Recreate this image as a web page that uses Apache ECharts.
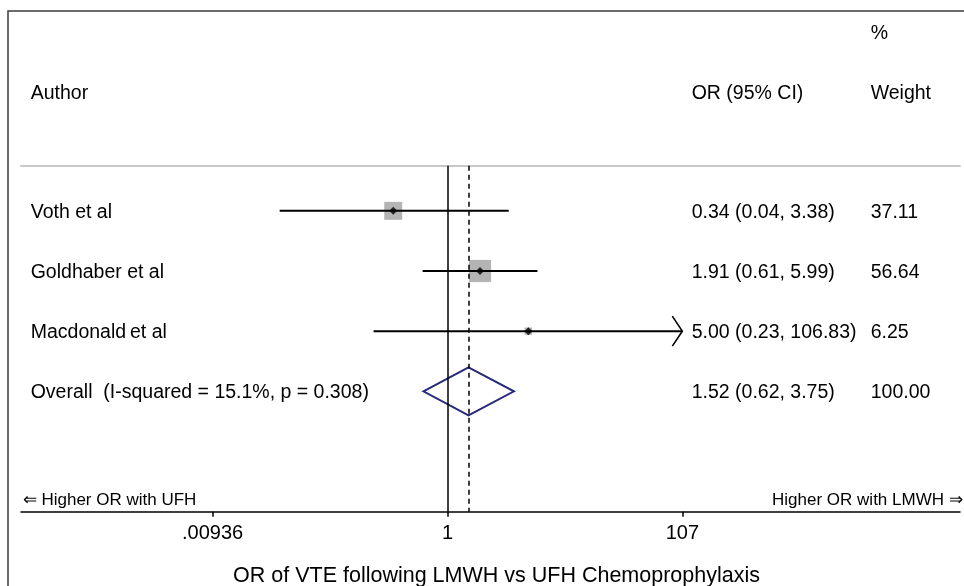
<!DOCTYPE html>
<html>
<head>
<meta charset="utf-8">
<script src="https://cdn.jsdelivr.net/npm/echarts@6/dist/echarts.min.js"></script>
<style>html,body{margin:0;padding:0;background:#fff}#c{width:964px;height:586px}</style>
</head>
<body>
<div id="c"></div>
<script>
// ---- data ----
const studies = ['Voth et al', 'Goldhaber et al', 'Macdonald\u2009et al'];
const orEst = [0.34, 1.91, 5.00];
const ciLow = [0.0355, 0.61, 0.23];
const ciHigh = [3.38, 5.99, 106.83];
const weights = [37.11, 56.64, 6.25];
const ciArrow = [false, false, true];
const orText = ['0.34 (0.04, 3.38)', '1.91 (0.61, 5.99)', '5.00 (0.23, 106.83)'];
const weightText = ['37.11', '56.64', '6.25'];
const overallLabel = 'Overall  (I-squared = 15.1%, p = 0.308)';
const overallEst = 1.52;
const overallLow = 0.62;
const overallHigh = 3.75;
const overallText = '1.52 (0.62, 3.75)';
const overallWeight = '100.00';
const tickValues = [0.00936, 1, 107];
const tickLabels = ['.00936', '1', '107'];
const nullValue = 1;
// axis extent (log scale)
const axisMin = 0.000207;
const axisMax = 26760;

const FONT = '"Liberation Sans", Arial, Helvetica, sans-serif';
const overallRow = studies.length;

const chart = echarts.init(document.getElementById('c'), null, {renderer: 'canvas'});

function fmtTick(v) {
  let best = 0, bd = Infinity;
  tickValues.forEach((t, i) => {
    const d = Math.abs(Math.log(v) - Math.log(t));
    if (d < bd) { bd = d; best = i; }
  });
  return tickLabels[best];
}

const textRows = studies.map((s, i) => [nullValue, i, s, orText[i], weightText[i]]);
textRows.push([nullValue, overallRow, overallLabel, overallText, overallWeight]);

const option = {
  backgroundColor: '#fff',
  animation: false,
  grid: {left: 21, right: 4, top: 165.7, bottom: 74.3, outerBoundsMode: 'none', containLabel: false},
  xAxis: [{
    type: 'log',
    logBase: 10,
    min: axisMin,
    max: axisMax,
    position: 'bottom',
    axisLine: {show: true, onZero: false, lineStyle: {color: '#000', width: 1.5}},
    axisTick: {show: true, customValues: tickValues, length: 5, lineStyle: {color: '#000', width: 1.5}},
    axisLabel: {show: true, customValues: tickValues, formatter: fmtTick, color: '#000', fontSize: 20, fontFamily: FONT, margin: 12},
    minorTick: {show: false},
    splitLine: {show: false},
    name: 'OR of VTE following LMWH vs UFH Chemoprophylaxis',
    nameLocation: 'middle',
    nameGap: 53,
    nameTextStyle: {color: '#000', fontSize: 21.5, fontFamily: FONT, padding: [0, 0, 0, 12]}
  }, {
    type: 'log',
    logBase: 10,
    min: axisMin,
    max: axisMax,
    position: 'top',
    axisLine: {show: true, onZero: false, lineStyle: {color: '#c8c8c8', width: 2}},
    axisTick: {show: false},
    axisLabel: {show: false},
    splitLine: {show: false}
  }],
  yAxis: {
    type: 'value',
    inverse: true,
    min: -0.75,
    max: 5,
    show: false
  },
  graphic: [
    {type: 'rect', shape: {x: 8, y: 11, width: 980, height: 620}, style: {fill: 'none', stroke: '#3c3c3c', lineWidth: 1.5}, silent: true, z: 100},
    {type: 'text', x: 30.7, y: 94, style: {text: 'Author', font: '19.5px ' + FONT, fill: '#000', verticalAlign: 'middle'}},
    {type: 'text', x: 691.7, y: 94, style: {text: 'OR (95% CI)', font: '19.5px ' + FONT, fill: '#000', verticalAlign: 'middle'}},
    {type: 'text', x: 870.7, y: 33.5, style: {text: '%', font: '19.5px ' + FONT, fill: '#000', verticalAlign: 'middle'}},
    {type: 'text', x: 870.7, y: 94, style: {text: 'Weight', font: '19.5px ' + FONT, fill: '#000', verticalAlign: 'middle'}},
    {type: 'text', x: 22.7, y: 500, style: {text: '\u21D0 Higher OR with UFH', font: '17px ' + FONT, fill: '#000', verticalAlign: 'middle', align: 'left'}},
    {type: 'text', x: 962.7, y: 500, style: {text: 'Higher OR with LMWH \u21D2', font: '17px ' + FONT, fill: '#000', verticalAlign: 'middle', align: 'right'}}
  ],
  series: [
    {
      name: 'weightBox',
      type: 'scatter',
      z: 2,
      symbol: 'rect',
      symbolSize: (val, p) => 2.95 * Math.sqrt(weights[p.dataIndex]),
      itemStyle: {color: '#b4b4b4', opacity: 1},
      data: orEst.map((v, i) => [v, i]),
      markLine: {
        silent: true,
        symbol: 'none',
        label: {show: false},
        animation: false,
        data: [
          {xAxis: nullValue, lineStyle: {color: '#000', width: 1.5, type: 'solid'}},
          {xAxis: overallEst, lineStyle: {color: '#000', width: 1.5, type: [5, 4]}}
        ]
      }
    },
    {
      name: 'ci',
      type: 'custom',
      z: 3,
      clip: false,
      encode: {x: [0, 1], y: 2},
      data: ciLow.map((lo, i) => [lo, ciHigh[i], i, ciArrow[i] ? 1 : 0]),
      renderItem: (params, api) => {
        const a = api.coord([api.value(0), api.value(2)]);
        const b = api.coord([api.value(1), api.value(2)]);
        const children = [{
          type: 'line',
          shape: {x1: a[0], y1: a[1], x2: b[0], y2: b[1]},
          style: {stroke: '#000', lineWidth: 2}
        }];
        if (api.value(3)) {
          children.push({
            type: 'polyline',
            shape: {points: [[b[0] - 10, b[1] - 15], [b[0], b[1]], [b[0] - 10, b[1] + 15]]},
            style: {stroke: '#000', lineWidth: 1.6, fill: null}
          });
        }
        return {type: 'group', children};
      }
    },
    {
      name: 'estimate',
      type: 'scatter',
      z: 4,
      symbol: 'diamond',
      symbolSize: 8,
      itemStyle: {color: '#000'},
      data: orEst.map((v, i) => [v, i])
    },
    {
      name: 'overall',
      type: 'custom',
      z: 3,
      clip: false,
      encode: {x: [0, 1, 2], y: 3},
      data: [[overallLow, overallEst, overallHigh, overallRow]],
      renderItem: (params, api) => {
        const r = api.value(3);
        const l = api.coord([api.value(0), r]);
        const c = api.coord([api.value(1), r]);
        const h = api.coord([api.value(2), r]);
        const hh = 24;
        return {
          type: 'polygon',
          shape: {points: [[l[0], l[1]], [c[0], c[1] - hh], [h[0], h[1]], [c[0], c[1] + hh]]},
          style: {stroke: '#29297a', lineWidth: 2, fill: null}
        };
      }
    },
    {
      name: 'text',
      type: 'custom',
      z: 5,
      clip: false,
      encode: {x: 0, y: 1},
      data: textRows,
      renderItem: (params, api) => {
        const y = api.coord([api.value(0), api.value(1)])[1] + 1.5;
        const d = textRows[params.dataIndex];
        const st = (t, x) => ({type: 'text', x: x, y: y, style: {text: t, font: '19.5px ' + FONT, fill: '#000', verticalAlign: 'middle', align: 'left'}});
        return {type: 'group', children: [st(d[2], 30.7), st(d[3], 691.7), st(d[4], 870.7)]};
      }
    }
  ]
};
chart.setOption(option);
</script>
</body>
</html>
